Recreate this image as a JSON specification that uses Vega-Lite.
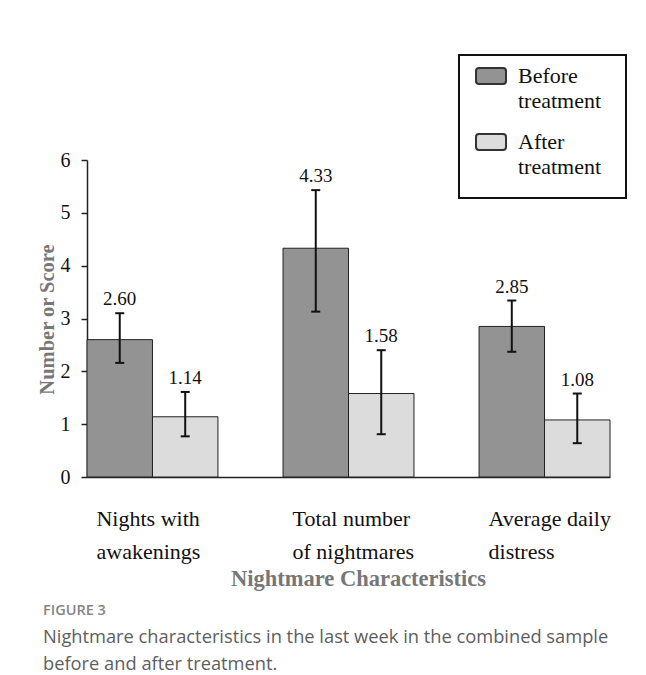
{
  "$schema": "https://vega.github.io/schema/vega-lite/v6.json",
  "width": 523,
  "height": 317,
  "autosize": {"type": "none"},
  "padding": {"left": 87, "top": 160, "right": 36, "bottom": 198},
  "background": "white",
  "title": {
    "text": "FIGURE 3",
    "subtitle": ["Nightmare characteristics in the last week in the combined sample", "before and after treatment."],
    "orient": "bottom",
    "anchor": "start",
    "frame": "group",
    "dx": -44,
    "offset": 14,
    "font": "Open Sans",
    "fontSize": 14.5,
    "fontWeight": 600,
    "color": "#858585",
    "subtitleFont": "Open Sans",
    "subtitleFontSize": 18.3,
    "subtitleColor": "#5e5e5e",
    "subtitleLineHeight": 27,
    "subtitlePadding": 11
  },
  "config": {
    "view": {"stroke": null},
    "font": "Liberation Serif"
  },
  "data": {
    "values": [
      {"measure": "Nights with awakenings", "time": "Before treatment", "value": 2.60, "lo": 2.16, "hi": 3.10, "label": "2.60"},
      {"measure": "Nights with awakenings", "time": "After treatment", "value": 1.14, "lo": 0.77, "hi": 1.61, "label": "1.14"},
      {"measure": "Total number of nightmares", "time": "Before treatment", "value": 4.33, "lo": 3.13, "hi": 5.43, "label": "4.33"},
      {"measure": "Total number of nightmares", "time": "After treatment", "value": 1.58, "lo": 0.81, "hi": 2.40, "label": "1.58"},
      {"measure": "Average daily distress", "time": "Before treatment", "value": 2.85, "lo": 2.37, "hi": 3.34, "label": "2.85"},
      {"measure": "Average daily distress", "time": "After treatment", "value": 1.08, "lo": 0.64, "hi": 1.58, "label": "1.08"}
    ]
  },
  "encoding": {
    "x": {
      "field": "measure",
      "type": "nominal",
      "sort": ["Nights with awakenings", "Total number of nightmares", "Average daily distress"],
      "scale": {"paddingInner": 0.332, "paddingOuter": 0},
      "axis": {
        "title": "Nightmare Characteristics",
        "titleFont": "Liberation Serif",
        "titleFontSize": 22.5,
        "titleFontWeight": "bold",
        "titleColor": "#777777",
        "titleX": 271,
        "titleY": 108,
        "titleBaseline": "alphabetic",
        "labelAngle": 0,
        "labelAlign": "left",
        "labelBaseline": "top",
        "labelOffset": -56,
        "labelPadding": 31,
        "labelFont": "Liberation Serif",
        "labelFontSize": 22,
        "labelLineHeight": 33,
        "labelColor": "#111111",
        "labelExpr": "datum.label == 'Nights with awakenings' ? ['Nights with', 'awakenings'] : datum.label == 'Total number of nightmares' ? ['Total number', 'of nightmares'] : ['Average daily', 'distress']",
        "ticks": false,
        "domainColor": "#222222",
        "domainWidth": 1.5
      }
    },
    "xOffset": {
      "field": "time",
      "type": "nominal",
      "sort": ["Before treatment", "After treatment"],
      "scale": {"paddingInner": 0, "paddingOuter": 0}
    }
  },
  "layer": [
    {
      "mark": {"type": "bar", "stroke": "#222222", "strokeWidth": 1},
      "encoding": {
        "y": {
          "field": "value",
          "type": "quantitative",
          "scale": {"domain": [0, 6]},
          "axis": {
            "title": "Number or Score",
            "titleFont": "Liberation Serif",
            "titleFontSize": 20.5,
            "titleFontWeight": "bold",
            "titleColor": "#777777",
            "titleAngle": -90,
            "titleX": -34,
            "titleY": 159,
            "titleAlign": "center",
            "titleBaseline": "alphabetic",
            "values": [0, 1, 2, 3, 4, 5, 6],
            "grid": false,
            "labelFont": "Liberation Serif",
            "labelFontSize": 20,
            "labelColor": "#111111",
            "labelPadding": 11,
            "tickSize": 6,
            "tickColor": "#222222",
            "tickWidth": 1.5,
            "domainColor": "#222222",
            "domainWidth": 1.5
          }
        },
        "color": {
          "field": "time",
          "type": "nominal",
          "sort": ["Before treatment", "After treatment"],
          "scale": {"domain": ["Before treatment", "After treatment"], "range": ["#939393", "#dcdcdc"]},
          "legend": {
            "title": "xxxxxxxxxxxxxxxxxxxxxxxxxxxxxxx",
            "titleOrient": "bottom",
            "titleFont": "Liberation Serif",
            "titleFontSize": 10.1,
            "titleOpacity": 0,
            "titleLimit": 400,
            "titlePadding": 4,
            "orient": "none",
            "legendX": 372,
            "legendY": -105,
            "strokeColor": "#111111",
            "padding": 5,
            "symbolOffset": 11,
            "rowPadding": 14,
            "labelFont": "Liberation Serif",
            "labelFontSize": 22,
            "labelColor": "#111111",
            "labelOffset": 11,
            "labelLimit": 400,
            "labelExpr": "[split(datum.label, ' ')[0], 'treatment']",
            "symbolType": "M-0.8,-0.533 H0.8 Q1,-0.533 1,-0.333 V0.333 Q1,0.533 0.8,0.533 H-0.8 Q-1,0.533 -1,0.333 V-0.333 Q-1,-0.533 -0.8,-0.533 Z",
            "symbolSize": 900,
            "symbolStrokeColor": "#333333",
            "symbolStrokeWidth": 2,
            "symbolOpacity": 1,
            "encode": {
              "legend": {"update": {"strokeWidth": {"value": 2}}},
              "labels": {"update": {"lineHeight": {"value": 25}}}
            }
          }
        }
      }
    },
    {
      "mark": {"type": "rule", "strokeWidth": 2, "color": "#111111"},
      "encoding": {
        "y": {"field": "lo", "type": "quantitative"},
        "y2": {"field": "hi"}
      }
    },
    {
      "mark": {"type": "tick", "size": 9, "thickness": 2, "color": "#111111", "opacity": 1},
      "encoding": {"y": {"field": "lo", "type": "quantitative"}}
    },
    {
      "mark": {"type": "tick", "size": 9, "thickness": 2, "color": "#111111", "opacity": 1},
      "encoding": {"y": {"field": "hi", "type": "quantitative"}}
    },
    {
      "mark": {"type": "text", "dy": -8, "baseline": "alphabetic", "font": "Liberation Serif", "fontSize": 19, "color": "#111111"},
      "encoding": {
        "y": {"field": "hi", "type": "quantitative"},
        "text": {"field": "label"}
      }
    }
  ]
}
